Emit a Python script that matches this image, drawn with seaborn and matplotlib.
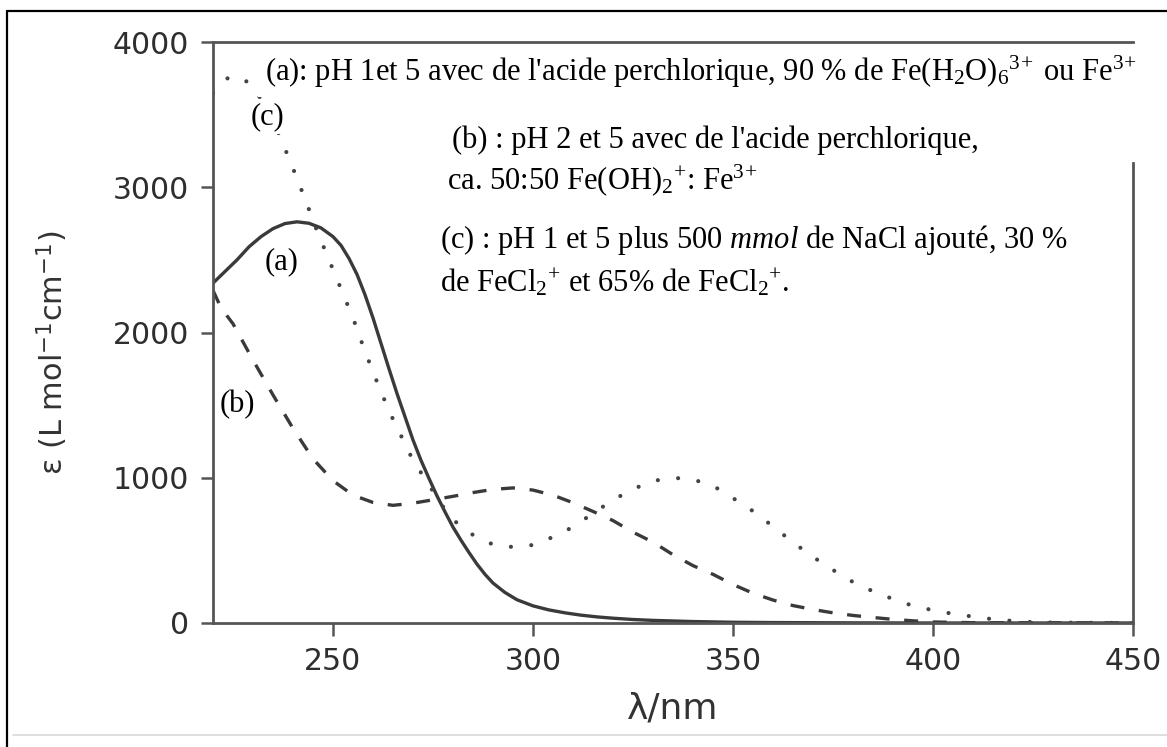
import numpy as np
import pandas as pd
import matplotlib
matplotlib.use("Agg")
import matplotlib.pyplot as plt
import seaborn as sns
from matplotlib.lines import Line2D

# ---------------- data ----------------
wl_a = [220, 223, 226, 229, 232, 235, 238, 241, 244, 247, 250, 252, 254, 256,
        258, 260, 262, 264, 266, 268, 270, 272, 274, 276, 278, 280, 282, 284,
        286, 288, 290, 293, 296, 300, 304, 308, 312, 316, 320, 325, 330, 340,
        350, 360, 380, 400, 450]
eps_a = [2340, 2420, 2500, 2590, 2660, 2715, 2750, 2762, 2752, 2720, 2660, 2600,
         2510, 2400, 2260, 2100, 1925, 1750, 1580, 1420, 1260, 1120, 995, 875,
         765, 660, 570, 485, 405, 335, 275, 210, 160, 118, 90, 70, 54, 42, 33,
         24, 18, 10, 5, 3, 1, 0, 0]

wl_b = [220, 222, 225, 230, 235, 240, 245, 250, 255, 260, 265, 270, 275, 280,
        285, 290, 295, 300, 305, 310, 315, 320, 325, 330, 335, 340, 345, 350,
        355, 360, 365, 370, 375, 380, 385, 390, 395, 400, 410, 450]
eps_b = [2290, 2170, 2060, 1810, 1570, 1340, 1130, 980, 880, 830, 810, 825, 848,
         872, 898, 920, 930, 915, 880, 828, 768, 705, 625, 557, 470, 395, 335,
         265, 205, 158, 120, 93, 70, 52, 38, 25, 15, 7, 2, 0]

wl_c = [220, 224, 228, 232, 236, 240, 243, 246, 249, 252, 255, 258, 261, 264,
        267, 270, 274, 277, 280, 285, 290, 295, 300, 305, 310, 315, 320, 325,
        330, 335, 340, 345, 350, 355, 360, 365, 370, 375, 380, 385, 390, 395,
        400, 405, 410, 415, 420, 425, 430, 450]
eps_c = [3650, 3760, 3740, 3610, 3400, 3130, 2920, 2700, 2500, 2300, 2100, 1870,
         1660, 1460, 1290, 1120, 950, 820, 710, 606, 540, 523, 537, 592, 661,
         755, 847, 922, 978, 1000, 988, 945, 860, 770, 665, 555, 455, 365, 282,
         218, 165, 118, 88, 63, 44, 26, 14, 6, 3, 0]

x_ticks = [250, 300, 350, 400, 450]
y_ticks = [0, 1000, 2000, 3000, 4000]

# ---------------- style ----------------
sns.set_theme(style="white")
plt.rcParams["font.family"] = ["DejaVu Sans"]
plt.rcParams["mathtext.fontset"] = "custom"
plt.rcParams["mathtext.rm"] = "Liberation Serif"
plt.rcParams["mathtext.it"] = "Liberation Serif:italic"
plt.rcParams["mathtext.bf"] = "Liberation Serif:bold"
plt.rcParams["mathtext.sf"] = "DejaVu Sans"

W, H = 1167, 747
fig = plt.figure(figsize=(W / 100, H / 100), dpi=100)
fig.patch.set_facecolor("white")

def fx(px):
    return px / W

def fy(py):
    return 1 - py / H

ax = fig.add_axes([fx(213), fy(623), fx(1133) - fx(213), fy(42) - fy(623)])
ax.set_facecolor("white")

curve_col = "#3a3a3a"
df_a = pd.DataFrame({"wl": wl_a, "eps": eps_a})
df_b = pd.DataFrame({"wl": wl_b, "eps": eps_b})
df_c = pd.DataFrame({"wl": wl_c, "eps": eps_c})

sns.lineplot(data=df_a, x="wl", y="eps", ax=ax, color=curve_col, lw=2.4)
ln_a = ax.lines[-1]
ln_a.set_solid_joinstyle("round")
sns.lineplot(data=df_b, x="wl", y="eps", ax=ax, color=curve_col, lw=2.4)
ln_b = ax.lines[-1]
ln_b.set_dashes((4.2, 4.4))
ln_b.set_dash_capstyle("butt")
sns.lineplot(data=df_c, x="wl", y="eps", ax=ax, color="#444444", lw=3.0)
ln_c = ax.lines[-1]
ln_c.set_dashes((0.01, 4.9))
ln_c.set_dash_capstyle("round")

ax.set_xlim(220, 450)
ax.set_ylim(0, 4000)
ax.set_xticks(x_ticks)
ax.set_yticks(y_ticks)
ax.set_xticklabels([str(v) for v in x_ticks])
ax.set_yticklabels([str(v) for v in y_ticks])

spine_col = "#555555"
for s in ax.spines.values():
    s.set_visible(True)
    s.set_color(spine_col)
    s.set_linewidth(2.0)
ax.spines["right"].set_bounds(0, 3165)

ax.tick_params(axis="both", which="major", direction="out", length=9, width=1.8,
               color=spine_col, labelsize=21.5, labelcolor="#2e2e2e", pad=8)
ax.tick_params(axis="x", bottom=True, top=False)
ax.tick_params(axis="y", left=True, right=False)

ax.set_xlabel(r"λ/nm", fontsize=26, color="#333333", va="center")
ax.xaxis.set_label_coords(0.5, (623 - 708) / 581)
ax.set_ylabel(r"ε (L mol$^{\mathsf{-1}}$cm$^{\mathsf{-1}}$)", fontsize=22,
              color="#333333", va="center")
ax.yaxis.set_label_coords((52 - 213) / 920, (623 - 353) / 581)
ax.grid(False)

# ---------------- annotations ----------------
serif = "Liberation Serif"
tsize = 22
box = dict(facecolor="white", edgecolor="none", pad=2)

fig.text(fx(265), fy(72),
         r"(a): pH 1et 5 avec de l'acide perchlorique, 90 % de Fe(H$_2$O)$_6$$^{3\!+}$ ou Fe$^{3\!+}$",
         family=serif, fontsize=tsize, color="black", ha="left", va="center",
         bbox=dict(facecolor="white", edgecolor="none", pad=5))
fig.text(fx(452), fy(140),
         r"(b) : pH 2 et 5 avec de l'acide perchlorique,",
         family=serif, fontsize=tsize, color="black", ha="left", va="center")
fig.text(fx(447), fy(180),
         r"ca. 50:50 Fe(OH)$_2$$^{+}$: Fe$^{3\!+}$",
         family=serif, fontsize=tsize, color="black", ha="left", va="center")
fig.text(fx(440), fy(240),
         r"(c) : pH 1 et 5 plus 500 $\mathit{mmol}$ de NaCl ajouté, 30 %",
         family=serif, fontsize=tsize, color="black", ha="left", va="center")
fig.text(fx(440), fy(283),
         r"de FeCl$_2$$^{+}$ et 65% de FeCl$_2$$^{+}$.",
         family=serif, fontsize=tsize, color="black", ha="left", va="center")

fig.text(fx(268), fy(117), "(c)", family=serif, fontsize=tsize, color="black",
         ha="center", va="center", bbox=box)
fig.text(fx(282), fy(262), "(a)", family=serif, fontsize=tsize, color="black",
         ha="center", va="center", bbox=box)
fig.text(fx(237), fy(405), "(b)", family=serif, fontsize=tsize, color="black",
         ha="center", va="center", bbox=box)

# ---------------- outer frame ----------------
fig.add_artist(Line2D([fx(7), fx(1167)], [fy(11), fy(11)], color="black", lw=1.6,
                      transform=fig.transFigure))
fig.add_artist(Line2D([fx(7), fx(7)], [fy(11), fy(747)], color="black", lw=1.6,
                      transform=fig.transFigure))
fig.add_artist(Line2D([fx(13), fx(1167)], [fy(735), fy(735)], color="#d8d8d8", lw=1.2,
                      transform=fig.transFigure))

fig.savefig("out.png", dpi=100)
